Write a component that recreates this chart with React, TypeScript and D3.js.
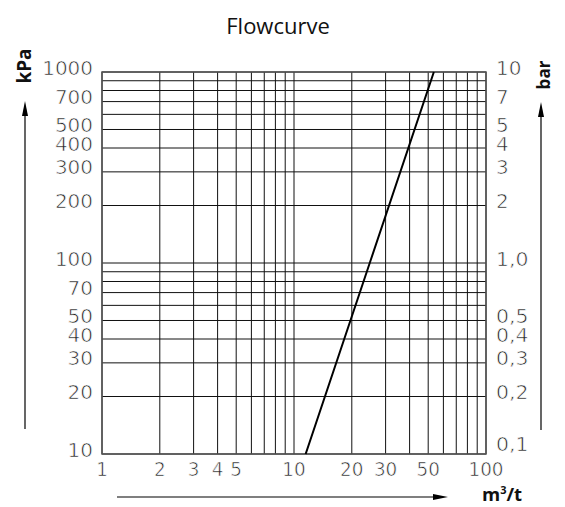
import React from "react";
import * as d3 from "d3";

const title = "Flowcurve";
const flowValues = [11.5, 24.8, 53.5];
const pressureValues = [10, 100, 1000];
const xGridValues = [1, 2, 3, 4, 5, 6, 7, 8, 9, 10, 20, 30, 40, 50, 60, 70, 80, 90, 100];
const yGridValues = [10, 20, 30, 40, 50, 60, 70, 80, 90, 100, 200, 300, 400, 500, 600, 700, 800, 900, 1000];
const xTickLabels = [1, 2, 3, 4, 5, 10, 20, 30, 50, 100];
const kpaTickLabels = [1000, 700, 500, 400, 300, 200, 100, 70, 50, 40, 30, 20, 10];
const barTickLabels = [10, 7, 5, 4, 3, 2, 1, 0.5, 0.4, 0.3, 0.2, 0.1];

const W = 565;
const H = 507;
const numFont = "'DejaVu Sans', sans-serif";
const boldFont = "'Open Sans', 'DejaVu Sans', sans-serif";

function fmtBar(v: number): string {
  if (v >= 2) return String(v);
  return v.toFixed(1).replace(".", ",");
}

function textLen(s: string): number {
  let w = 0;
  for (const c of s) w += c === "," ? 7 : 12.7;
  return w;
}

export default function App() {
  const x = d3.scaleLog().domain([1, 100]).range([102, 486]);
  const y = d3.scaleLog().domain([10, 1000]).range([454, 72]);
  const line = d3
    .line<number>()
    .x((_, i) => x(flowValues[i]))
    .y((d) => y(d));
  const [x0, x1] = x.range();
  const [y0, y1] = y.range();

  return (
    <svg
      width={W}
      height={H}
      style={{ position: "absolute", left: 0, top: 0, background: "#fff" }}
    >
      <rect x={0} y={0} width={W} height={H} fill="#fff" />
      <text
        x={278}
        y={34}
        textAnchor="middle"
        fontFamily="'Open Sans', 'Noto Sans', sans-serif"
        fontSize={22}
        fill="#111"
      >
        {title}
      </text>
      {/* grid */}
      <g stroke="#111" strokeWidth={1}>
        {xGridValues.map((v) => (
          <line key={"x" + v} x1={x(v)} x2={x(v)} y1={y0} y2={y1} />
        ))}
        {yGridValues.map((v) => (
          <line key={"y" + v} x1={x0} x2={x1} y1={y(v)} y2={y(v)} />
        ))}
      </g>
      <rect
        x={x0}
        y={y1}
        width={x1 - x0}
        height={y0 - y1}
        fill="none"
        stroke="#555"
        strokeWidth={1.5}
      />
      {/* curve */}
      <path d={line(pressureValues) || ""} fill="none" stroke="#000" strokeWidth={2} />
      {/* tick labels */}
      <g
        fontFamily={numFont}
        fontSize={20}
        fill="#222"
        stroke="#fff"
        strokeWidth={0.7}
      >
        {kpaTickLabels.map((v) => {
          const s = String(v);
          return (
            <text
              key={"l" + v}
              x={93}
              y={y(v) - 3}
              textAnchor="end"
              dominantBaseline="middle"
              textLength={textLen(s)}
              lengthAdjust="spacingAndGlyphs"
            >
              {s}
            </text>
          );
        })}
        {barTickLabels.map((v) => {
          const s = fmtBar(v);
          return (
            <text
              key={"r" + v}
              x={496}
              y={y(v * 100) - (v === 0.1 ? 9 : 3)}
              textAnchor="start"
              dominantBaseline="middle"
              textLength={textLen(s)}
              lengthAdjust="spacingAndGlyphs"
            >
              {s}
            </text>
          );
        })}
        {xTickLabels.map((v) => {
          const s = String(v);
          return (
            <text
              key={"b" + v}
              x={x(v)}
              y={470}
              textAnchor="middle"
              dominantBaseline="middle"
              textLength={textLen(s) * 0.92}
              lengthAdjust="spacingAndGlyphs"
            >
              {s}
            </text>
          );
        })}
      </g>
      {/* axis titles */}
      <text
        transform="translate(31,66) rotate(-90)"
        textAnchor="middle"
        fontFamily={boldFont}
        fontWeight={700}
        fontSize={19}
        fill="#111"
      >
        kPa
      </text>
      <text
        transform="translate(550,75) rotate(-90)"
        textAnchor="middle"
        fontFamily={boldFont}
        fontWeight={700}
        fontSize={17}
        fill="#111"
      >
        bar
      </text>
      <text
        x={482}
        y={501}
        fontFamily={boldFont}
        fontWeight={700}
        fontSize={18.5}
        fill="#111"
      >
        m<tspan dy={-7} fontSize={11}>3</tspan>
        <tspan dy={7}>/t</tspan>
      </text>
      {/* arrows */}
      <g stroke="#000" strokeWidth={1.2}>
        <line x1={25} x2={25} y1={429} y2={112} />
        <line x1={541} x2={541} y1={430} y2={113} />
        <line x1={117} x2={436} y1={497} y2={497} />
      </g>
      <g fill="#000">
        <path d="M25,101 L22,116 L28,116 Z" />
        <path d="M541,102 L538,117 L544,117 Z" />
        <path d="M448,497 L433,494 L433,500 Z" />
      </g>
    </svg>
  );
}
